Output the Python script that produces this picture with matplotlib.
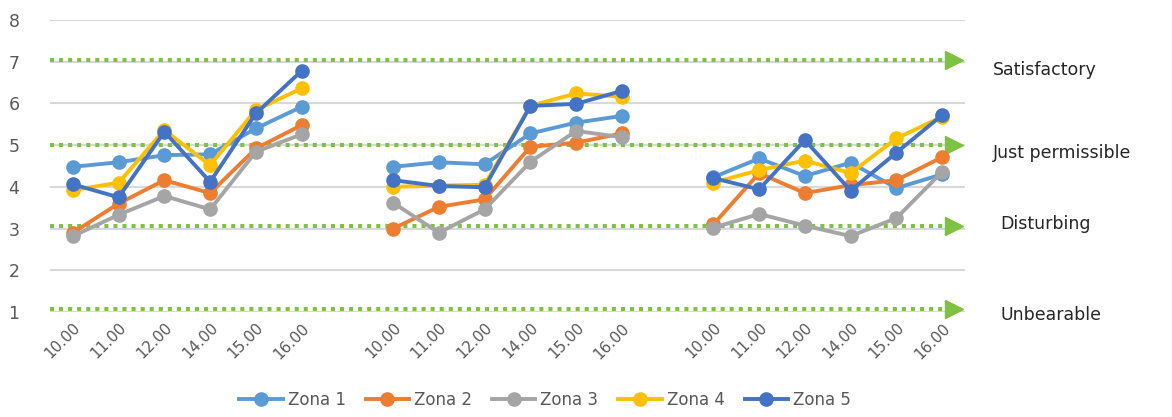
import matplotlib
matplotlib.use("Agg")
import matplotlib.pyplot as plt
import numpy as np

times = ["10.00", "11.00", "12.00", "14.00", "15.00", "16.00"]
series_names = ["Zona 1", "Zona 2", "Zona 3", "Zona 4", "Zona 5"]
colors = ["#5B9BD5", "#ED7D31", "#A5A5A5", "#FFC000", "#4472C4"]

# three measurement groups (6 time points each)
zona1 = [[4.48, 4.59, 4.76, 4.78, 5.40, 5.92],
         [4.48, 4.59, 4.54, 5.28, 5.54, 5.70],
         [4.23, 4.68, 4.26, 4.58, 3.97, 4.30]]
zona2 = [[2.90, 3.60, 4.16, 3.85, 4.92, 5.48],
         [3.00, 3.52, 3.70, 4.96, 5.06, 5.28],
         [3.10, 4.33, 3.85, 4.04, 4.16, 4.71]]
zona3 = [[2.82, 3.33, 3.78, 3.46, 4.84, 5.26],
         [3.62, 2.90, 3.46, 4.60, 5.34, 5.19],
         [3.02, 3.35, 3.07, 2.82, 3.25, 4.36]]
zona4 = [[3.92, 4.10, 5.36, 4.52, 5.84, 6.36],
         [4.00, 4.03, 4.05, 5.94, 6.24, 6.16],
         [4.10, 4.40, 4.63, 4.33, 5.16, 5.68]]
zona5 = [[4.06, 3.75, 5.32, 4.12, 5.76, 6.78],
         [4.16, 4.02, 3.99, 5.94, 5.99, 6.30],
         [4.21, 3.94, 5.12, 3.91, 4.82, 5.72]]

levels = [7.05, 5.0, 3.05, 1.08]
level_names = ["Satisfactory", "Just permissible", "Disturbing", "Unbearable"]
level_text_y = [6.8, 4.8, 3.1, 0.92]
level_text_x = [993, 993, 1000, 1000]

W, H = 1172, 417
fig = plt.figure(figsize=(W / 100, H / 100), dpi=100)
ax = fig.add_axes([50 / W, (H - 312) / H, (965 - 50) / W, (312 - 20) / H])

# category positions: 6 points, gap, 6 points, gap, 6 points
n_groups = 3
pos_groups = [np.arange(6) + g * 7 for g in range(n_groups)]
tick_pos = np.concatenate(pos_groups)
tick_labels = times * n_groups

ax.set_xlim(-0.5, 19.5)
ax.set_ylim(1, 8)
ax.set_yticks(range(1, 9))
ax.yaxis.grid(True, color="#D9D9D9", linewidth=1.5)
ax.set_axisbelow(True)
for s in ax.spines.values():
    s.set_visible(False)
ax.tick_params(axis="both", length=0, colors="#595959", labelsize=12.5)
ax.tick_params(axis="y", pad=22)
ax.set_xticks(tick_pos)
ax.set_xticklabels(tick_labels, rotation=45, ha="right", rotation_mode="anchor",
                   fontsize=11, color="#595959")
ax.tick_params(axis="x", pad=6)

# threshold lines
green = "#7DC242"
for lv in levels:
    ax.plot([-0.5, 19.05], [lv, lv], color=green, linewidth=2.9,
            linestyle=(0, (1.0, 1.25)), dash_capstyle="butt", zorder=2,
            clip_on=False)
    ax.plot([19.25], [lv], marker=">", color=green, markersize=12.5,
            linestyle="none", clip_on=False, zorder=2)

all_series = [zona1, zona2, zona3, zona4, zona5]
handles = []
for name, col, data in zip(series_names, colors, all_series):
    for g in range(n_groups):
        h, = ax.plot(pos_groups[g], data[g], color=col, linewidth=2.8,
                     marker="o", markersize=9.5, zorder=3)
        if g == 0:
            handles.append(h)

for name, lv, xp in zip(level_names, level_text_y, level_text_x):
    y_pix = ax.transData.transform((0, lv))[1]
    fig.text(xp / W, y_pix / fig.bbox.height, name, fontsize=12.5,
             color="#262626", va="center", ha="left")

fig.legend(handles=handles, labels=series_names, loc="center",
           bbox_to_anchor=(545 / W, (H - 400) / H), ncol=5, frameon=False,
           fontsize=12, handlelength=2.6, columnspacing=1.2, handletextpad=0.3,
           labelcolor="#595959")

fig.savefig("out.png", dpi=100)
